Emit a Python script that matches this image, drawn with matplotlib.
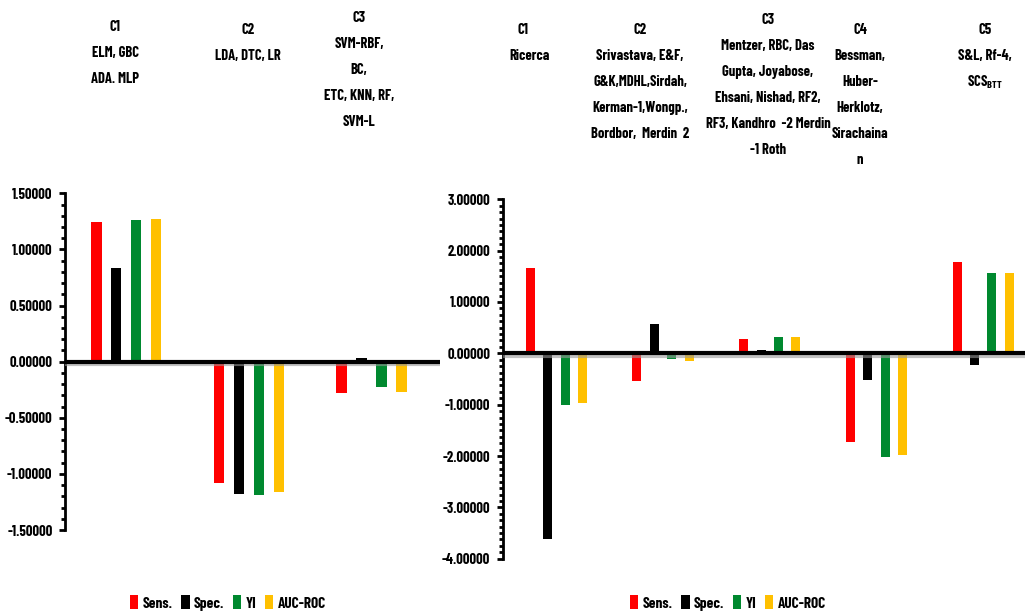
import numpy as np
import matplotlib
matplotlib.use("Agg")
import matplotlib.pyplot as plt
import matplotlib.patheffects as pe
from matplotlib.ticker import FormatStrFormatter, MultipleLocator
from matplotlib.patches import Patch

plt.rcParams['font.family'] = ['Barlow Condensed', 'DejaVu Sans']
plt.rcParams['font.weight'] = 'bold'
plt.rcParams['mathtext.fontset'] = 'custom'
plt.rcParams['mathtext.rm'] = 'Barlow Condensed:bold'
plt.rcParams['mathtext.default'] = 'regular'

# ---------- datos ----------
metrics = ['Sens.', 'Spec.', 'YI', 'AUC-ROC']
colors = ['#FF0000', '#000000', '#00892F', '#FFC000']

left_groups = ['C1', 'C2', 'C3']
left_sens = [1.24, -1.08, -0.28]
left_spec = [0.83, -1.18, 0.03]
left_yi   = [1.26, -1.19, -0.23]
left_auc  = [1.27, -1.16, -0.27]

right_groups = ['C1', 'C2', 'C3', 'C4', 'C5']
right_sens = [1.66, -0.54, 0.28, -1.73, 1.78]
right_spec = [-3.62, 0.57, 0.06, -0.51, -0.22]
right_yi   = [-1.00, -0.12, 0.32, -2.02, 1.57]
right_auc  = [-0.97, -0.15, 0.32, -1.98, 1.57]

left_labels = [
    ['C1', 'ELM, GBC', 'ADA. MLP'],
    ['C2', 'LDA, DTC, LR'],
    ['C3', 'SVM-RBF,', 'BC,', 'ETC, KNN, RF,', 'SVM-L'],
]
right_labels = [
    ['C1', 'Ricerca'],
    ['C2', 'Srivastava, E&F,', 'G&K,MDHL,Sirdah,', 'Kerman-1,Wongp.,', 'Bordbor,  Merdin  2'],
    ['C3', 'Mentzer, RBC, Das', 'Gupta, Joyabose,', 'Ehsani, Nishad, RF2,', 'RF3, Kandhro  -2 Merdin', '-1 Roth'],
    ['C4', 'Bessman,', 'Huber-', 'Herklotz,', 'Sirachaina', 'n'],
    ['C5', 'S&L, Rf-4,', r'SCS$_{BTT}$'],
]

W, H = 1025, 615
fig = plt.figure(figsize=(W / 100, H / 100), dpi=100)


def px_axes(x0, x1, ytop, ybot):
    return fig.add_axes([x0 / W, 1 - ybot / H, (x1 - x0) / W, (ybot - ytop) / H])


def draw_panel(ax, groups, series, ylim, major, minor):
    x = np.arange(len(groups))
    width, step = 0.085, 0.163
    for i, (vals, c) in enumerate(zip(series, colors)):
        ax.bar(x + (i - 1.5) * step, vals, width, color=c, zorder=2)
    ax.axhline(0, color='black', lw=3, zorder=3,
               path_effects=[pe.SimpleLineShadow(offset=(0, -2), shadow_color='#999999', alpha=0.6),
                             pe.Normal()])
    ax.set_ylim(*ylim)
    for s in ['top', 'right', 'bottom']:
        ax.spines[s].set_visible(False)
    ax.spines['left'].set_linewidth(2)
    ax.set_xticks([])
    ax.yaxis.set_major_locator(MultipleLocator(major))
    ax.yaxis.set_minor_locator(MultipleLocator(minor))
    ax.yaxis.set_major_formatter(FormatStrFormatter('%.5f'))
    ax.tick_params(axis='y', which='major', length=4, width=2, pad=5, labelsize=10.5)
    ax.tick_params(axis='y', which='minor', length=3, width=2)


# ---------- panel izquierdo ----------
axL = px_axes(65, 440, 193.3, 530)
draw_panel(axL, left_groups, [left_sens, left_spec, left_yi, left_auc],
           (-1.5, 1.5), 0.5, 0.1)
axL.set_xlim(-0.5, 2.56)

# ---------- panel derecho ----------
axR = px_axes(503, 1025, 199.3, 558.7)
draw_panel(axR, right_groups, [right_sens, right_spec, right_yi, right_auc],
           (-4, 3), 1.0, 0.125)
axR.set_xlim(-0.5, -0.5 + 522 / 106.7)

# ---------- etiquetas de grupos ----------
left_pos = [(115, 27), (248, 30), (359, 18)]
right_pos = [(523, 30), (640, 30), (768, 20), (860, 30), (985, 30)]
line_h = 26
for lines, (px, py) in list(zip(left_labels, left_pos)) + list(zip(right_labels, right_pos)):
    for k, t in enumerate(lines):
        xx = px
        if lines[0] == 'C1' and k > 0 and px > 500:
            xx = 530
        fig.text(xx / W, 1 - (py + k * line_h) / H, t, ha='center', va='center', fontsize=10.5)

# ---------- leyendas ----------
handles = [Patch(facecolor=c, edgecolor='none') for c in colors]
for cx in (228, 728):
    fig.legend(handles, metrics, loc='center', bbox_to_anchor=(cx / W, 1 - 603 / H),
               ncol=4, frameon=False, handlelength=0.55, handleheight=1.0,
               handletextpad=0.3, columnspacing=0.55, fontsize=11)

fig.savefig("out.png", dpi=100)
